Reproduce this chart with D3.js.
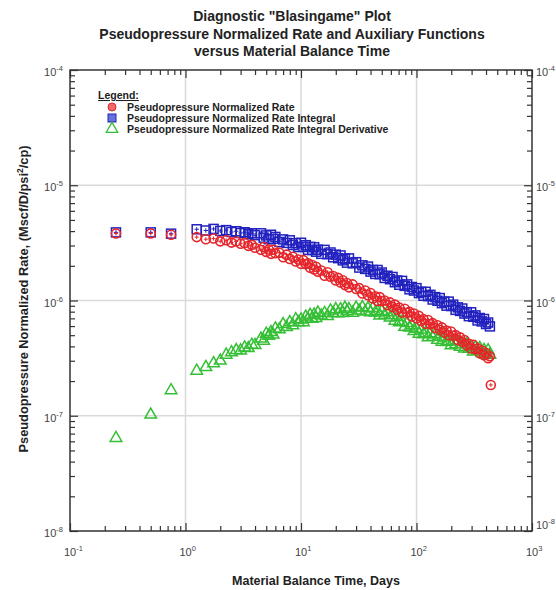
<!DOCTYPE html>
<html>
<head>
<meta charset="utf-8">
<script src="https://cdn.jsdelivr.net/npm/d3@7"></script>
<style>
  body { margin: 0; background: #fff; }
  svg { display: block; }
</style>
</head>
<body>
<svg id="chart" width="556" height="590"></svg>
<script>
// Material balance time, days (last entry only carries a rate value)
const mbtDays = [
  0.25, 0.5, 0.75,
  1.25, 1.5, 1.75, 2, 2.25, 2.5, 2.75, 3, 3.25, 3.5, 3.75, 4,
  4.5, 4.75, 5, 5.25, 5.5, 5.75, 6, 6.5, 7, 7.5,
  8, 8.5, 9, 9.5, 10, 10.5, 11, 11.5, 12, 12.5,
  13, 13.5, 14, 15, 16, 17, 18, 19, 20, 21,
  22, 23, 24, 25, 26, 28, 30, 32, 34, 36,
  38, 40, 42, 44, 46, 48, 50, 53, 56, 59,
  62, 65, 68, 71, 75, 79, 83, 87, 91, 95,
  100, 105, 110, 115, 120, 126, 132, 138, 145, 152,
  159, 166, 174, 182, 190, 199, 208, 218, 228, 238,
  249, 260, 272, 284, 297, 310, 324, 338, 353, 368,
  384, 400, 417, 432,
  440
];

// Pseudopressure normalized rate, Mscf/D/psi²/cp
const rateValues = [
  3.82e-6, 3.82e-6, 3.72e-6,
  3.55e-6, 3.40e-6, 3.45e-6, 3.26e-6, 3.33e-6, 3.18e-6, 3.25e-6, 3.11e-6, 3.16e-6, 2.98e-6, 3.04e-6, 2.87e-6,
  2.75e-6, 2.91e-6, 2.64e-6, 2.77e-6, 2.54e-6, 2.76e-6, 2.57e-6, 2.60e-6, 2.37e-6, 2.50e-6,
  2.29e-6, 2.40e-6, 2.18e-6, 2.27e-6, 2.08e-6, 2.24e-6, 2.07e-6, 2.10e-6, 1.92e-6, 2.03e-6,
  1.86e-6, 1.96e-6, 1.78e-6, 1.82e-6, 1.64e-6, 1.76e-6, 1.61e-6, 1.63e-6, 1.49e-6, 1.57e-6,
  1.43e-6, 1.50e-6, 1.36e-6, 1.42e-6, 1.30e-6, 1.38e-6, 1.26e-6, 1.28e-6, 1.15e-6, 1.22e-6,
  1.11e-6, 1.16e-6, 1.04e-6, 1.09e-6, 9.89e-7, 1.07e-6, 9.91e-7, 1.00e-6, 9.12e-7, 9.63e-7,
  8.79e-7, 9.21e-7, 8.32e-7, 8.67e-7, 7.88e-7, 8.48e-7, 7.82e-7, 7.96e-7, 7.27e-7, 7.72e-7,
  7.02e-7, 7.35e-7, 6.63e-7, 6.89e-7, 6.28e-7, 6.78e-7, 6.24e-7, 6.36e-7, 5.78e-7, 6.10e-7,
  5.58e-7, 5.84e-7, 5.27e-7, 5.48e-7, 4.99e-7, 5.39e-7, 4.95e-7, 5.01e-7, 4.54e-7, 4.79e-7,
  4.36e-7, 4.54e-7, 4.08e-7, 4.22e-7, 3.83e-7, 4.13e-7, 3.78e-7, 3.84e-7, 3.48e-7, 3.68e-7,
  3.35e-7, 3.50e-7, 3.16e-7, 3.28e-7,
  1.85e-7
];

// Pseudopressure normalized rate integral
const integralValues = [
  3.90e-6, 3.90e-6, 3.80e-6,
  4.15e-6, 4.05e-6, 4.18e-6, 4.02e-6, 4.08e-6, 3.93e-6, 3.99e-6, 3.85e-6, 3.91e-6, 3.76e-6, 3.83e-6, 3.69e-6,
  3.83e-6, 3.51e-6, 3.67e-6, 3.40e-6, 3.72e-6, 3.43e-6, 3.56e-6, 3.22e-6, 3.39e-6, 3.16e-6,
  3.33e-6, 3.03e-6, 3.14e-6, 2.91e-6, 3.17e-6, 2.92e-6, 3.02e-6, 2.75e-6, 2.92e-6, 2.74e-6,
  2.90e-6, 2.65e-6, 2.76e-6, 2.54e-6, 2.75e-6, 2.52e-6, 2.61e-6, 2.37e-6, 2.50e-6, 2.33e-6,
  2.46e-6, 2.23e-6, 2.30e-6, 2.13e-6, 2.32e-6, 2.10e-6, 2.15e-6, 1.93e-6, 2.02e-6, 1.88e-6,
  1.97e-6, 1.78e-6, 1.84e-6, 1.70e-6, 1.84e-6, 1.69e-6, 1.75e-6, 1.57e-6, 1.64e-6, 1.53e-6,
  1.60e-6, 1.44e-6, 1.49e-6, 1.37e-6, 1.48e-6, 1.34e-6, 1.38e-6, 1.25e-6, 1.31e-6, 1.22e-6,
  1.28e-6, 1.16e-6, 1.19e-6, 1.10e-6, 1.19e-6, 1.09e-6, 1.12e-6, 1.02e-6, 1.07e-6, 9.95e-7,
  1.05e-6, 9.48e-7, 9.77e-7, 9.02e-7, 9.78e-7, 8.95e-7, 9.21e-7, 8.30e-7, 8.72e-7, 8.12e-7,
  8.52e-7, 7.70e-7, 7.92e-7, 7.31e-7, 7.90e-7, 7.22e-7, 7.43e-7, 6.71e-7, 7.05e-7, 6.58e-7,
  6.91e-7, 6.25e-7, 6.44e-7, 5.96e-7,
  null
];

// Pseudopressure normalized rate integral derivative
const derivativeValues = [
  6.4e-8, 1.02e-7, 1.66e-7,
  2.45e-7, 2.64e-7, 2.85e-7, 3.00e-7, 3.38e-7, 3.55e-7, 3.70e-7, 3.68e-7, 3.90e-7, 3.85e-7, 4.12e-7, 4.10e-7,
  4.66e-7, 4.47e-7, 5.13e-7, 4.92e-7, 5.30e-7, 5.05e-7, 5.70e-7, 5.60e-7, 6.22e-7, 5.88e-7,
  6.47e-7, 6.08e-7, 6.86e-7, 6.45e-7, 6.83e-7, 6.45e-7, 7.23e-7, 6.91e-7, 7.49e-7, 6.93e-7,
  7.52e-7, 7.01e-7, 7.83e-7, 7.37e-7, 7.77e-7, 7.30e-7, 8.16e-7, 7.77e-7, 8.40e-7, 7.74e-7,
  8.37e-7, 7.78e-7, 8.66e-7, 8.06e-7, 8.40e-7, 7.82e-7, 8.65e-7, 8.15e-7, 8.74e-7, 7.99e-7,
  8.57e-7, 7.89e-7, 8.59e-7, 7.84e-7, 8.05e-7, 7.40e-7, 8.09e-7, 7.50e-7, 7.90e-7, 7.11e-7,
  7.43e-7, 6.66e-7, 7.17e-7, 6.47e-7, 6.53e-7, 5.90e-7, 6.35e-7, 5.82e-7, 6.09e-7, 5.42e-7,
  5.67e-7, 5.14e-7, 5.59e-7, 5.08e-7, 5.21e-7, 4.78e-7, 5.19e-7, 4.82e-7, 5.08e-7, 4.56e-7,
  4.82e-7, 4.38e-7, 4.77e-7, 4.34e-7, 4.44e-7, 4.08e-7, 4.46e-7, 4.15e-7, 4.39e-7, 3.96e-7,
  4.19e-7, 3.82e-7, 4.17e-7, 3.80e-7, 3.91e-7, 3.59e-7, 3.92e-7, 3.66e-7, 3.86e-7, 3.49e-7,
  3.71e-7, 3.38e-7, 3.69e-7, 3.38e-7,
  null
];

const xTickValues = [0.1, 1, 10, 100, 1000];
const xTickExponents = ["-1", "0", "1", "2", "3"];
const yTickValues = [1e-4, 1e-5, 1e-6, 1e-7, 1e-8];
const yTickExponents = ["-4", "-5", "-6", "-7", "-8"];

const titleLines = [
  "Diagnostic \"Blasingame\" Plot",
  "Pseudopressure Normalized Rate and Auxiliary Functions",
  "versus Material Balance Time"
];
const xAxisTitle = "Material Balance Time, Days";
const legendTitle = "Legend:";
const legendLabels = [
  "Pseudopressure Normalized Rate",
  "Pseudopressure Normalized Rate Integral",
  "Pseudopressure Normalized Rate Integral Derivative"
];

const RED = "#e5262b", BLUE = "#2222c0", GREEN = "#35bf35";
const FONT = "'Liberation Sans', Arial, sans-serif";

const svg = d3.select("#chart");
const plotLeft = 70, plotRight = 532, plotTop = 70, plotBottom = 531;

const x = d3.scaleLog().domain([0.1, 1000]).range([plotLeft, plotRight]);
const y = d3.scaleLog().domain([1e-8, 1e-4]).range([plotBottom, plotTop]);

function minorTicks(lo, hi) {
  const out = [];
  for (let e = Math.round(Math.log10(lo)); e < Math.round(Math.log10(hi)); e++) {
    for (let k = 2; k <= 9; k++) out.push(k * Math.pow(10, e));
  }
  return out;
}
const xMinor = minorTicks(0.1, 1000);
const yMinor = minorTicks(1e-8, 1e-4);

// grid at the decades
const grid = svg.append("g").attr("stroke", "#d9d9d9").attr("stroke-width", 1.5);
xTickValues.slice(1, -1).forEach(v => {
  grid.append("line").attr("x1", x(v)).attr("x2", x(v)).attr("y1", plotTop).attr("y2", plotBottom);
});
yTickValues.slice(1, -1).forEach(v => {
  grid.append("line").attr("x1", plotLeft).attr("x2", plotRight).attr("y1", y(v)).attr("y2", y(v));
});

// inward ticks on all four sides
function addAxis(axisFn, scale, transform, values, size) {
  const g = svg.append("g")
    .attr("transform", transform)
    .call(axisFn(scale).tickValues(values).tickSize(-size).tickFormat(""));
  g.select(".domain").remove();
  g.selectAll(".tick line").attr("stroke", "#333").attr("stroke-width", 1.2);
}
[[d3.axisBottom, x, `translate(0,${plotBottom})`], [d3.axisTop, x, `translate(0,${plotTop})`]].forEach(([fn, s, t]) => {
  addAxis(fn, s, t, xTickValues, 8);
  addAxis(fn, s, t, xMinor, 5);
});
[[d3.axisLeft, y, `translate(${plotLeft},0)`], [d3.axisRight, y, `translate(${plotRight},0)`]].forEach(([fn, s, t]) => {
  addAxis(fn, s, t, yTickValues, 8);
  addAxis(fn, s, t, yMinor, 5);
});

// frame
svg.append("rect")
  .attr("x", plotLeft).attr("y", plotTop)
  .attr("width", plotRight - plotLeft).attr("height", plotBottom - plotTop)
  .attr("fill", "none").attr("stroke", "#333").attr("stroke-width", 1.5);

// power-of-ten tick labels
function powerLabel(px, py, exp, anchor) {
  const t = svg.append("text")
    .attr("x", px).attr("y", py)
    .attr("text-anchor", anchor)
    .attr("font-family", FONT).attr("font-size", 11)
    .attr("fill", "#444");
  t.append("tspan").text("10");
  t.append("tspan").attr("dy", -5).attr("font-size", 7.5).text(exp);
}
xTickValues.forEach((v, i) => powerLabel(x(v) - 6, 556, xTickExponents[i], "start"));
yTickValues.forEach((v, i) => powerLabel(63, y(v) + 6, yTickExponents[i], "end"));
yTickValues.forEach((v, i) => powerLabel(536, y(v) + (i === yTickValues.length - 1 ? -2 : 6), yTickExponents[i], "start"));

// titles
const title = svg.append("text")
  .attr("text-anchor", "middle")
  .attr("font-family", FONT).attr("font-weight", "bold").attr("font-size", 14)
  .attr("fill", "#222");
titleLines.forEach((line, i) => {
  title.append("tspan").attr("x", 292).attr("y", 21 + i * 17.5).text(line);
});

svg.append("text")
  .attr("x", 316).attr("y", 585)
  .attr("text-anchor", "middle")
  .attr("font-family", FONT).attr("font-weight", "bold").attr("font-size", 12.5)
  .attr("fill", "#222")
  .text(xAxisTitle);

const yTitle = svg.append("text")
  .attr("transform", "translate(28,299) rotate(-90)")
  .attr("text-anchor", "middle")
  .attr("font-family", FONT).attr("font-weight", "bold").attr("font-size", 12.8)
  .attr("fill", "#222");
yTitle.append("tspan").text("Pseudopressure Normalized Rate, (Mscf/D/psi");
yTitle.append("tspan").attr("dy", -5).attr("font-size", 8.5).text("2");
yTitle.append("tspan").attr("dy", 5).text("/cp)");

// marker drawing
const plot = svg.append("g");
function pairs(values) {
  return mbtDays.map((t, i) => [t, values[i]]).filter(d => d[1] != null);
}
function plus(g, cx, cy, r, color) {
  g.append("path")
    .attr("d", `M${cx - r},${cy}H${cx + r}M${cx},${cy - r}V${cy + r}`)
    .attr("stroke", color).attr("stroke-width", 1).attr("fill", "none");
}
const triangle = d3.symbol().type(d3.symbolTriangle).size(58);

// derivative: open triangles
const gGreen = plot.append("g");
pairs(derivativeValues).forEach(([t, v]) => {
  gGreen.append("path")
    .attr("d", triangle())
    .attr("transform", `translate(${x(t)},${y(v)})`)
    .attr("fill", "none").attr("stroke", GREEN).attr("stroke-width", 1.5);
});

// integral: open squares with cross
const gBlue = plot.append("g");
pairs(integralValues).forEach(([t, v]) => {
  const cx = x(t), cy = y(v);
  gBlue.append("rect")
    .attr("x", cx - 4.5).attr("y", cy - 4.5).attr("width", 9).attr("height", 9)
    .attr("fill", "none").attr("stroke", BLUE).attr("stroke-width", 1.5);
  plus(gBlue, cx, cy, 2.2, BLUE);
});

// rate: open circles with cross
const gRed = plot.append("g");
pairs(rateValues).forEach(([t, v]) => {
  const cx = x(t), cy = y(v);
  gRed.append("circle")
    .attr("cx", cx).attr("cy", cy).attr("r", 4.5)
    .attr("fill", "none").attr("stroke", RED).attr("stroke-width", 1.6);
  plus(gRed, cx, cy, 2, RED);
});

// legend
const legend = svg.append("g").attr("font-family", FONT).attr("font-weight", "bold").attr("font-size", 10.5).attr("fill", "#222");
legend.append("text").attr("x", 98).attr("y", 99).attr("text-decoration", "underline").text(legendTitle);
const legendY = [107, 118, 129];
legend.append("circle").attr("cx", 112).attr("cy", legendY[0]).attr("r", 4)
  .attr("fill", "#ef6b6b").attr("stroke", RED).attr("stroke-width", 1);
legend.append("rect").attr("x", 108).attr("y", legendY[1] - 4).attr("width", 8).attr("height", 8)
  .attr("fill", "#6672d8").attr("stroke", BLUE).attr("stroke-width", 1);
legend.append("path").attr("d", triangle()).attr("transform", `translate(112,${legendY[2]})`)
  .attr("fill", "none").attr("stroke", GREEN).attr("stroke-width", 1.3);
legendLabels.forEach((label, i) => {
  legend.append("text").attr("x", 127).attr("y", legendY[i] + 4).text(label);
});
</script>
</body>
</html>
